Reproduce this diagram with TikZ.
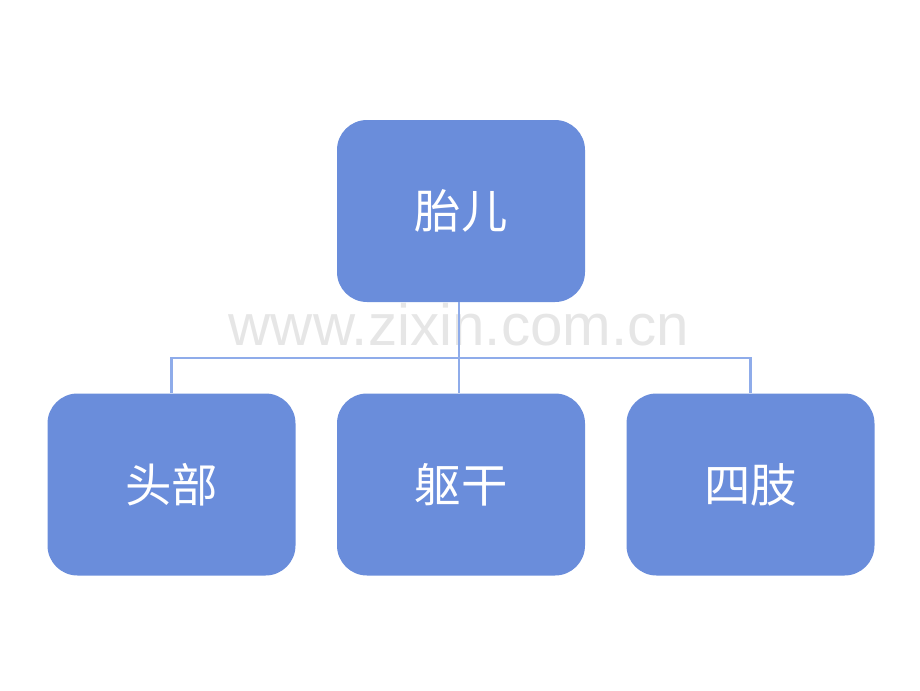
\documentclass[tikz,border=0pt]{standalone}
\usepackage{fontspec}
\setmainfont{Liberation Sans}
\newfontfamily\cjk{Noto Sans CJK SC}
\usepackage{tikz}
\definecolor{boxblue}{RGB}{106,141,219}
\definecolor{lineblue}{RGB}{143,172,234}
\definecolor{markgray}{RGB}{230,230,230}
\tikzstyle{part}=[shape=rectangle,rounded corners=0.75cm,fill=boxblue,minimum width=6.2cm,minimum height=4.55cm,text=white,font=\cjk\fontsize{33}{39}\selectfont]
\tikzstyle{link}=[draw=lineblue,line width=2pt]

\begin{document}
\begin{tikzpicture}
            \useasboundingbox (0,0) rectangle (23,-17.25);
            \node[text=markgray,anchor=base,font=\fontsize{41.5}{48}\selectfont] (mark) at (11.475,-8.625) {www.zixin.com.cn}
            ;
            \coordinate (bus) at (11.475,-8.95);
            \node[part] (fetus) at (11.525,-5.275) {胎儿}
            ;
            \node[part] (head) at (4.2875,-12.1125) {头部}
            ;
            \node[part] (trunk) at (11.525,-12.1125) {躯干}
            ;
            \node[part] (limbs) at (18.7625,-12.1125) {四肢}
            ;
            \draw[link] (fetus.south -| bus) -- (bus) -| (head.north);
            \draw[link] (bus) -| (limbs.north);
            \draw[link] (bus) -- (trunk.north -| bus);
        \end{tikzpicture}
\end{document}
